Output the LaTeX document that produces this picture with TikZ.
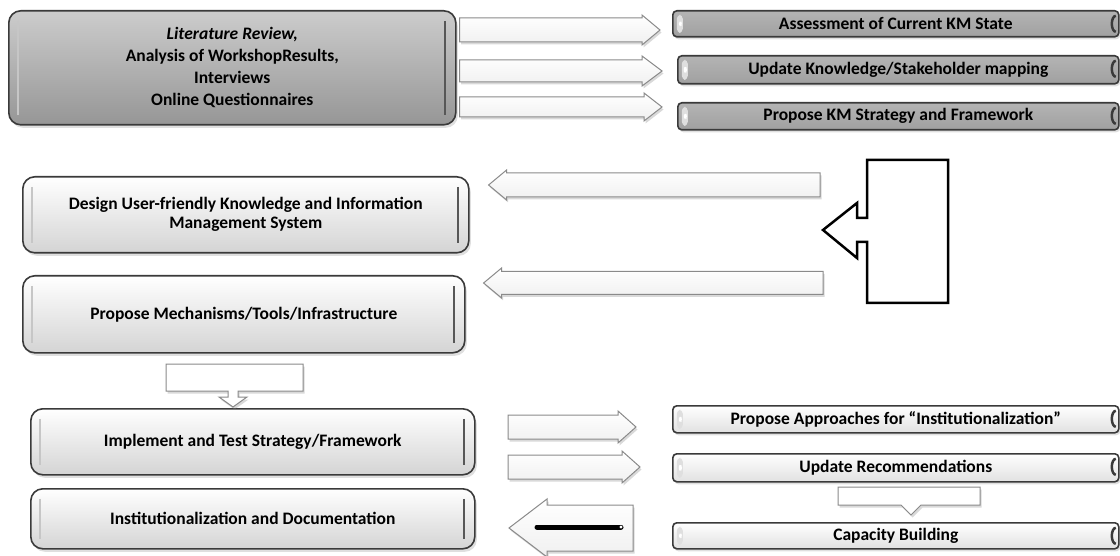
\documentclass[tikz,border=0pt]{standalone}
\usepackage{fontspec}
\setmainfont{Carlito}
\usetikzlibrary{calc, shadows}
\definecolor{boxedge}{HTML}{3A3A3A}
\definecolor{greytop}{HTML}{B4B4B4}
\definecolor{greymid}{HTML}{E0E0E0}
\definecolor{greybot}{HTML}{A0A0A0}
\definecolor{srctop}{HTML}{CCCCCC}
\definecolor{srcbot}{HTML}{969696}
\definecolor{lightbot}{HTML}{D4D4D4}
\definecolor{arrowedge}{HTML}{8A8A8A}
\newcommand{\rarrow}[5]{% from, to, shaft half, head half, head length
  \path[blockarrow] let \p1=(#1), \p2=(#2) in
    (\x1,\y1+#3) -- (\x2-#5,\y1+#3) -- (\x2-#5,\y1+#4) -- (\x2,\y1)
    -- (\x2-#5,\y1-#4) -- (\x2-#5,\y1-#3) -- (\x1,\y1-#3) -- cycle;}
\newcommand{\larrow}[5]{%
  \path[blockarrow] let \p1=(#1), \p2=(#2) in
    (\x1,\y1+#3) -- (\x2+#5,\y1+#3) -- (\x2+#5,\y1+#4) -- (\x2,\y1)
    -- (\x2+#5,\y1-#4) -- (\x2+#5,\y1-#3) -- (\x1,\y1-#3) -- cycle;}

\begin{document}
\begin{tikzpicture}[
  x=1pt, y=-1pt,
  txt/.style={font=\bfseries\fontsize{17.5}{22}\selectfont, align=center},
  stepbox/.style={txt, rectangle, anchor=north west, rounded corners=12pt, draw=boxedge, line width=1.6pt,
    top color=white, bottom color=lightbot,
    drop shadow={opacity=0.25, shadow xshift=2pt, shadow yshift=-3pt},
    path picture={
      \draw[line width=2pt, gray!45] ([xshift=9pt,yshift=-10pt]path picture bounding box.north west)
        -- ([xshift=9pt,yshift=10pt]path picture bounding box.south west);
      \draw[line width=2.5pt, boxedge!85] ([xshift=-11pt,yshift=-10pt]path picture bounding box.north east)
        -- ([xshift=-11pt,yshift=10pt]path picture bounding box.south east);}},
  darkbox/.style={stepbox, top color=srctop, bottom color=srcbot},
  barbox/.style={txt, rectangle, anchor=north west, rounded corners=4pt, draw=boxedge, line width=1.6pt,
    top color=white, bottom color=lightbot!70,
    drop shadow={opacity=0.25, shadow xshift=1.5pt, shadow yshift=-2.5pt},
    path picture={
      \fill[gray!25] ([xshift=4pt,yshift=-4pt]path picture bounding box.north west)
        rectangle ([xshift=10pt,yshift=4pt]path picture bounding box.south west);
      \fill[white] ([xshift=6pt,yshift=-9pt]path picture bounding box.north west)
        -- ([xshift=6pt,yshift=9pt]path picture bounding box.south west)
        -- ([xshift=11pt]path picture bounding box.west) -- cycle;
      \draw[line width=2.5pt, boxedge] ([xshift=-3pt,yshift=-5pt]path picture bounding box.north east)
        arc[start angle=90, end angle=270, x radius=4pt, y radius={0.5*(26pt-10pt)}];}},
  greybar/.style={barbox, top color=greytop, middle color=greymid, bottom color=greybot},
  blockarrow/.style={draw=arrowedge, line width=1pt, top color=white, bottom color=gray!12,
    drop shadow={opacity=0.3, shadow xshift=1.5pt, shadow yshift=-2.5pt}},
  callout/.style={draw=arrowedge, line width=1pt, fill=white,
    drop shadow={opacity=0.3, shadow xshift=1.5pt, shadow yshift=-2.5pt}},
  bigarrow/.style={draw=black, line width=2.5pt, fill=white}
]
\useasboundingbox (0,0) rectangle (1120,556);

% left column
\node[darkbox, minimum width=447pt, minimum height=114pt] (src) at (8,10)
  {\textit{Literature Review,}\\Analysis of WorkshopResults,\\Interviews\\Online Questionnaires};
\node[stepbox, minimum width=446pt, minimum height=76pt, font=\bfseries\fontsize{17.5}{19}\selectfont] (design) at (22,176)
  {Design User-friendly Knowledge and Information\\Management System};
\node[stepbox, minimum width=442pt, minimum height=77pt] (mech) at (22,275) {Propose Mechanisms/Tools/Infrastructure};
\node[stepbox, minimum width=444pt, minimum height=66pt] (impl) at (30,408) {Implement and Test Strategy/Framework};
\node[stepbox, minimum width=444pt, minimum height=60pt] (inst) at (30,488) {Institutionalization and Documentation};

% right column
\node[greybar, minimum width=446pt, minimum height=26pt] (assess) at (672,10) {Assessment of Current KM State};
\node[greybar, minimum width=441pt, minimum height=28pt] (mapping) at (677,55) {Update Knowledge/Stakeholder mapping};
\node[greybar, minimum width=441pt, minimum height=27pt] (kmstrat) at (677,102) {Propose KM Strategy and Framework};
\node[barbox, minimum width=446pt, minimum height=27pt] (approach) at (672,405) {Propose Approaches for “Institutionalization”};
\node[barbox, minimum width=446pt, minimum height=28pt] (recomm) at (672,453) {Update Recommendations};
\node[barbox, minimum width=446pt, minimum height=26pt] (capacity) at (672,522) {Capacity Building};

% arrow ends
\coordinate (r1s) at ([xshift=3pt]src.east |- 0,30);
\coordinate (r1e) at (660,30);
\coordinate (r2s) at ([xshift=3pt]src.east |- 0,71);
\coordinate (r2e) at (662,71);
\coordinate (r3s) at ([xshift=3pt]src.east |- 0,107);
\coordinate (r3e) at (662,107);
\coordinate (l1s) at (820,185);
\coordinate (l1e) at ([xshift=19pt]design.east |- 0,185);
\coordinate (l2s) at (823,283);
\coordinate (l2e) at ([xshift=18pt]mech.east |- 0,283);
\coordinate (r4s) at (508,427);
\coordinate (r4e) at (636,427);
\coordinate (r5s) at (508,467);
\coordinate (r5e) at (640,467);
\coordinate (l3s) at (633,528);
\coordinate (l3e) at (509,528);

\rarrow{r1s}{r1e}{12pt}{15pt}{18pt}
\rarrow{r2s}{r2e}{11pt}{15pt}{20pt}
\rarrow{r3s}{r3e}{10pt}{14pt}{18pt}
\larrow{l1s}{l1e}{12pt}{15pt}{18pt}
\larrow{l2s}{l2e}{11.5pt}{15pt}{18pt}
\rarrow{r4s}{r4e}{12pt}{16pt}{18pt}
\rarrow{r5s}{r5e}{12pt}{16pt}{18pt}
\larrow{l3s}{l3e}{23pt}{29pt}{38pt}
\draw[line width=5pt, line cap=round] (537,527) -- (621,527);
\fill[white] (621,527) circle (1.6pt);

% open arrow on the right
\path[bigarrow] (867,160) -- (948,160) -- (948,303) -- (867,303) -- (867,242) -- (857,242)
  -- (857,258) -- (823,230) -- (857,203) -- (857,218) -- (867,218) -- cycle;

% small down callouts
\path[callout] (166,364) -- (303,364) -- (303,391) -- (238,391) -- (238,397) -- (247,397)
  -- (233,407) -- (219,397) -- (228,397) -- (228,391) -- (166,391) -- cycle;
\path[callout] (838,487) -- (980,487) -- (980,505) -- (921,505) -- (911,515) -- (901,505)
  -- (838,505) -- cycle;
\end{tikzpicture}
\end{document}
